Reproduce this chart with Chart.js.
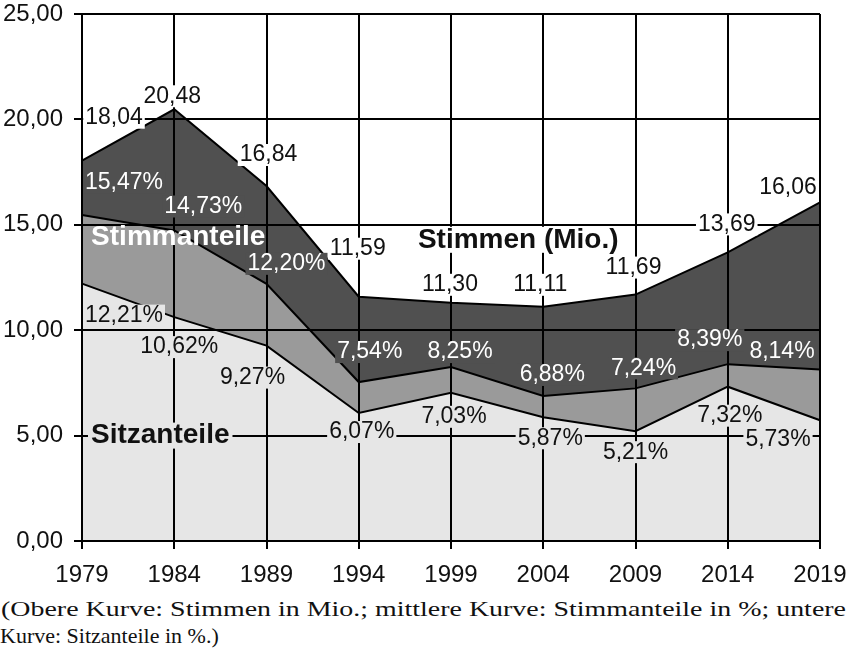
<!DOCTYPE html>
<html lang="de">
<head>
<meta charset="utf-8">
<title>Stimmen, Stimmanteile, Sitzanteile</title>
<script src="https://cdn.jsdelivr.net/npm/chart.js@4.4.1/dist/chart.umd.min.js"></script>
<style>
    body { margin: 0; background: #fff; }
    #wrap { width: 847px; height: 595px; }
    #legende {
        width: 847px;
        font: 22px "Liberation Serif", "Times New Roman", serif;
        line-height: 27px;
        color: #111;
    }
    #legende .z1 { display: inline-block; white-space: nowrap; transform-origin: 0 0; margin-left: 1px; }
</style>
</head>
<body>
<div id="wrap"><canvas id="chart" width="847" height="595"></canvas></div>
<div id="legende">
    <span class="z1" id="zeile1">(Obere Kurve: Stimmen in Mio.; mittlere Kurve: Stimmanteile in %; untere</span>
    <div>Kurve: Sitzanteile in %.)</div>
</div>
<script>
// ── Daten ─────────────────────────────────────────────────────────────
const jahre        = ["1979", "1984", "1989", "1994", "1999", "2004", "2009", "2014", "2019"];
const stimmen      = [18.04, 20.48, 16.84, 11.59, 11.30, 11.11, 11.69, 13.69, 16.06];
const stimmanteile = [15.47, 14.73, 12.20, 7.54, 8.25, 6.88, 7.24, 8.39, 8.14];
const sitzanteile  = [12.21, 10.62, 9.27, 6.07, 7.03, 5.87, 5.21, 7.32, 5.73];
const yTicks       = [0, 5, 10, 15, 20, 25];

// ── Farben ────────────────────────────────────────────────────────────
const DUNKEL = "#505050";
const MITTEL = "#9a9a9a";
const HELL   = "#e6e6e6";
const FONT   = '"Liberation Sans", Arial, sans-serif';

// Versatz der Wertbeschriftungen gegenüber dem Datenpunkt (px)
const versatzStimmen = [[32, -43], [-2, -13], [2, -31], [-1, -48], [-1, -18], [-3, -22], [-2, -27], [-1, -28], [-32, -15]];
const versatzAnteile = [[42, -32], [29, -24], [20, -20], [11, -30], [9, -15], [9, -21], [8, -20], [-18, -24], [-38, -18]];
const versatzSitze   = [[42, 32], [5, 30], [-14, 32], [3, 19], [3, 24], [7, 21], [0, 21], [2, 29], [-42, 19]];

const komma = (v) => v.toFixed(2).replace(".", ",");

const reihen = [
    { werte: stimmen,      suffix: "",  versatz: versatzStimmen, schrift: "#111", grund: "#fff" },
    { werte: stimmanteile, suffix: "%", versatz: versatzAnteile, schrift: "#fff", grund: DUNKEL },
    { werte: sitzanteile,  suffix: "%", versatz: versatzSitze,   schrift: "#111", grund: HELL },
];

// Bezeichnungen der Kurven: [Text, Index, Wert, dx, dy, Schrift, Grund]
const titel = [
    ["Stimmanteile",   1, 14.73, 4, 7, "#fff", null],
    ["Stimmen (Mio.)", 5, 11.11, -25, -67, "#111", "#fff"],
    ["Sitzanteile",    1, 5.0, -14, 0, "#111", HELL],
];

const beschriftung = {
    id: "beschriftung",
    afterDraw(chart) {
        const { ctx, scales: { x, y } } = chart;
        ctx.save();
        ctx.textAlign = "center";
        ctx.textBaseline = "middle";

        ctx.font = `23px ${FONT}`;
        reihen.forEach(r => {
            r.werte.forEach((v, i) => {
                const [dx, dy] = r.versatz[i];
                const px = x.getPixelForValue(i) + dx;
                const py = y.getPixelForValue(v) + dy;
                const text = komma(v) + r.suffix;
                const w = ctx.measureText(text).width;
                ctx.fillStyle = r.grund;
                ctx.fillRect(px - w / 2 - 2, py - 11, w + 4, 22);
                ctx.fillStyle = r.schrift;
                ctx.fillText(text, px, py);
            });
        });

        ctx.font = `bold 28px ${FONT}`;
        titel.forEach(([text, i, v, dx, dy, farbe, grund]) => {
            const px = x.getPixelForValue(i) + dx;
            const py = y.getPixelForValue(v) + dy;
            const w = ctx.measureText(text).width;
            if (grund) {
                ctx.fillStyle = grund;
                ctx.fillRect(px - w / 2 - 3, py - 13, w + 6, 26);
            }
            ctx.fillStyle = farbe;
            ctx.fillText(text, px, py);
        });
        ctx.restore();
    }
};

const linie = { borderColor: "#000", borderWidth: 2, pointRadius: 0, tension: 0, fill: "origin" };

new Chart(document.getElementById("chart"), {
    type: "line",
    data: {
        labels: jahre,
        datasets: [
            { ...linie, label: "Sitzanteile",  data: sitzanteile,  backgroundColor: HELL },
            { ...linie, label: "Stimmanteile", data: stimmanteile, backgroundColor: MITTEL },
            { ...linie, label: "Stimmen",      data: stimmen,      backgroundColor: DUNKEL },
        ]
    },
    options: {
        responsive: false,
        animation: false,
        devicePixelRatio: 1,
        layout: { padding: 0 },
        plugins: { legend: { display: false }, tooltip: { enabled: false } },
        scales: {
            x: {
                grid: { color: "#000", lineWidth: 2, tickLength: 8, z: 1 },
                border: { color: "#000", width: 2, z: 1 },
                ticks: { color: "#111", font: { family: FONT, size: 24 }, padding: 12, maxRotation: 0, autoSkip: false, z: 1 },
                afterFit: (s) => { s.height = 54; s.paddingLeft = 0; s.paddingRight = 27; }
            },
            y: {
                min: 0,
                max: 25,
                afterBuildTicks: (s) => { s.ticks = yTicks.map(v => ({ value: v })); },
                grid: { color: "#000", lineWidth: 2, tickLength: 8, z: 1 },
                border: { color: "#000", width: 2, z: 1 },
                ticks: { color: "#111", font: { family: FONT, size: 24 }, padding: 11, callback: (v) => komma(v), z: 1 },
                afterFit: (s) => { s.width = 82; s.paddingTop = 14; s.paddingBottom = 0; }
            }
        }
    },
    plugins: [beschriftung]
});

// erste Zeile der Bildunterschrift auf volle Breite ziehen
const zeile1 = document.getElementById("zeile1");
zeile1.style.transform = `scaleX(${845 / zeile1.getBoundingClientRect().width})`;
</script>
</body>
</html>
